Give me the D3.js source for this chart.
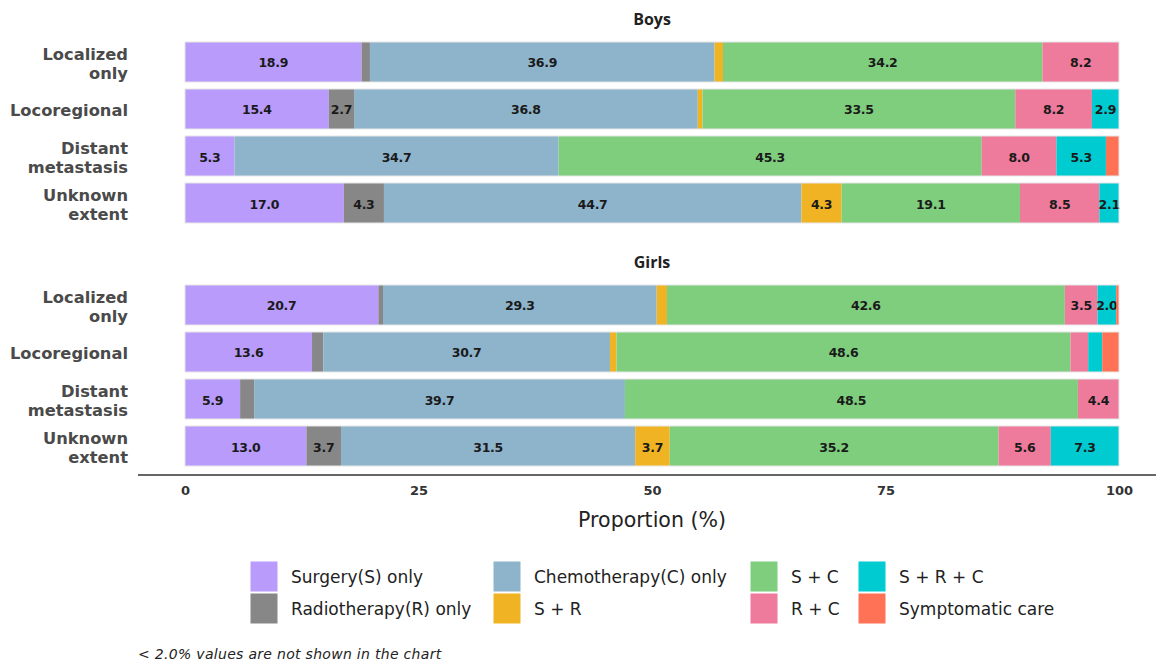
<!DOCTYPE html>
<html>
<head>
<meta charset="utf-8">
<script src="https://cdn.jsdelivr.net/npm/d3@7"></script>
<style>
  html, body { margin: 0; padding: 0; background: #fff; }
  svg { display: block; }
</style>
</head>
<body>
<svg id="chart" width="1156" height="664"></svg>
<script>
// ---- Data ----
const panels = ["Boys", "Girls"];
const extents = ["Localized only", "Locoregional", "Distant metastasis", "Unknown extent"];
const extentLines = [["Localized", "only"], ["Locoregional"], ["Distant", "metastasis"], ["Unknown", "extent"]];
const treatments = ["Surgery(S) only", "Radiotherapy(R) only", "Chemotherapy(C) only", "S + R", "S + C", "R + C", "S + R + C", "Symptomatic care"];
const colors = ["#B89BFB", "#878787", "#8DB4CB", "#F0B323", "#7FCE7E", "#EE7A9C", "#00CBD1", "#FF7256"];

// values per extent, in treatment order
const boys = [
  [18.9, 0.9, 36.9, 0.9, 34.2, 8.2, 0.0, 0.0],
  [15.4, 2.7, 36.8, 0.5, 33.5, 8.2, 2.9, 0.0],
  [5.3, 0.0, 34.7, 0.0, 45.3, 8.0, 5.3, 1.4],
  [17.0, 4.3, 44.7, 4.3, 19.1, 8.5, 2.1, 0.0]
];
const girls = [
  [20.7, 0.5, 29.3, 1.1, 42.6, 3.5, 2.0, 0.3],
  [13.6, 1.2, 30.7, 0.7, 48.6, 1.9, 1.5, 1.8],
  [5.9, 1.5, 39.7, 0.0, 48.5, 4.4, 0.0, 0.0],
  [13.0, 3.7, 31.5, 3.7, 35.2, 5.6, 7.3, 0.0]
];
const xTicks = [0, 25, 50, 75, 100];
const legendOrder = [
  ["Surgery(S) only", "Radiotherapy(R) only"],
  ["Chemotherapy(C) only", "S + R"],
  ["S + C", "R + C"],
  ["S + R + C", "Symptomatic care"]
];

// ---- Layout ----
const svg = d3.select("#chart");
const labelFont = "'DejaVu Sans', sans-serif";
const x = d3.scaleLinear().domain([0, 100]).range([185, 1119]);
const color = d3.scaleOrdinal().domain(treatments).range(colors);

const panelTops = [42, 285];
const panelData = [boys, girls];
const titleY = [19, 262];

const stack = d3.stack().keys(d3.range(treatments.length));

panels.forEach((p, pi) => {
  const y = d3.scaleBand().domain(extents).range([panelTops[pi], panelTops[pi] + 181]).paddingInner(0.149).paddingOuter(0);
  const g = svg.append("g");

  g.append("text")
    .attr("x", (x(0) + x(100)) / 2).attr("y", titleY[pi])
    .attr("text-anchor", "middle").attr("dominant-baseline", "central")
    .attr("font-family", "'Open Sans', sans-serif").attr("font-weight", 700)
    .attr("font-size", 16).attr("fill", "#222").text(p);

  const rows = panelData[pi];
  const series = stack(rows);

  series.forEach((s, ti) => {
    const t = treatments[ti];
    s.forEach((d, ri) => {
      const v = rows[ri][ti];
      if (v <= 0) return;
      const ext = extents[ri];
      g.append("rect")
        .attr("x", x(d[0])).attr("y", y(ext))
        .attr("width", x(d[1]) - x(d[0])).attr("height", y.bandwidth())
        .attr("fill", color(t));
      if (v >= 2.0) {
        g.append("text")
          .attr("x", (x(d[0]) + x(d[1])) / 2).attr("y", y(ext) + y.bandwidth() / 2 + 1)
          .attr("text-anchor", "middle").attr("dominant-baseline", "central")
          .attr("font-family", labelFont).attr("font-weight", 700)
          .attr("font-size", 12.5).attr("fill", "#1a1a1a").attr("letter-spacing", -0.3)
          .text(v.toFixed(1));
      }
    });
  });

  // light outline around each bar
  extents.forEach(ext => {
    g.append("rect")
      .attr("x", x(0)).attr("y", y(ext))
      .attr("width", x(100) - x(0)).attr("height", y.bandwidth())
      .attr("fill", "none").attr("stroke", "#e6e6e6").attr("stroke-width", 1);
  });

  // y labels
  extents.forEach((ext, ri) => {
    const lines = extentLines[ri];
    const cy = y(ext) + y.bandwidth() / 2 + 2;
    const lh = 19;
    lines.forEach((ln, li) => {
      g.append("text")
        .attr("x", 128).attr("y", cy + (li - (lines.length - 1) / 2) * lh)
        .attr("text-anchor", "end").attr("dominant-baseline", "central")
        .attr("font-family", labelFont).attr("font-weight", 700)
        .attr("font-size", 16.3).attr("fill", "#4a4a4a")
        .text(ln);
    });
  });
});

// x axis
const axisY = 475;
svg.append("line").attr("x1", 138).attr("x2", 1156).attr("y1", axisY).attr("y2", axisY)
  .attr("stroke", "#333").attr("stroke-width", 1.3);
const axis = d3.axisBottom(x).tickValues(xTicks).tickSize(0).tickPadding(0).tickFormat(d3.format("d"));
const ag = svg.append("g").attr("transform", `translate(0,${axisY + 11})`).call(axis);
ag.select(".domain").remove();
ag.selectAll("text")
  .attr("font-family", labelFont).attr("font-weight", 700)
  .attr("font-size", 13).attr("fill", "#333").attr("dy", "0.71em");

svg.append("text").attr("x", (x(0) + x(100)) / 2).attr("y", 520)
  .attr("text-anchor", "middle").attr("dominant-baseline", "central")
  .attr("font-family", labelFont).attr("font-size", 20.5).attr("fill", "#222")
  .text("Proportion (%)");

// legend
const colX = [250, 493, 750, 858];
const rowY = [561, 593];
legendOrder.forEach((col, ci) => {
  col.forEach((t, ri) => {
    svg.append("rect").attr("x", colX[ci]).attr("y", rowY[ri])
      .attr("width", 28).attr("height", 31).attr("fill", color(t))
      .attr("stroke", "#fff").attr("stroke-width", 1);
    svg.append("text").attr("x", colX[ci] + 41).attr("y", rowY[ri] + 16)
      .attr("dominant-baseline", "central")
      .attr("font-family", labelFont).attr("font-size", 17).attr("fill", "#222")
      .text(t);
  });
});

// footnote
svg.append("text").attr("x", 138).attr("y", 654)
  .attr("dominant-baseline", "central")
  .attr("font-family", labelFont).attr("font-style", "italic")
  .attr("font-size", 14).attr("letter-spacing", 0.3).attr("fill", "#222")
  .text("< 2.0% values are not shown in the chart");
</script>
</body>
</html>
